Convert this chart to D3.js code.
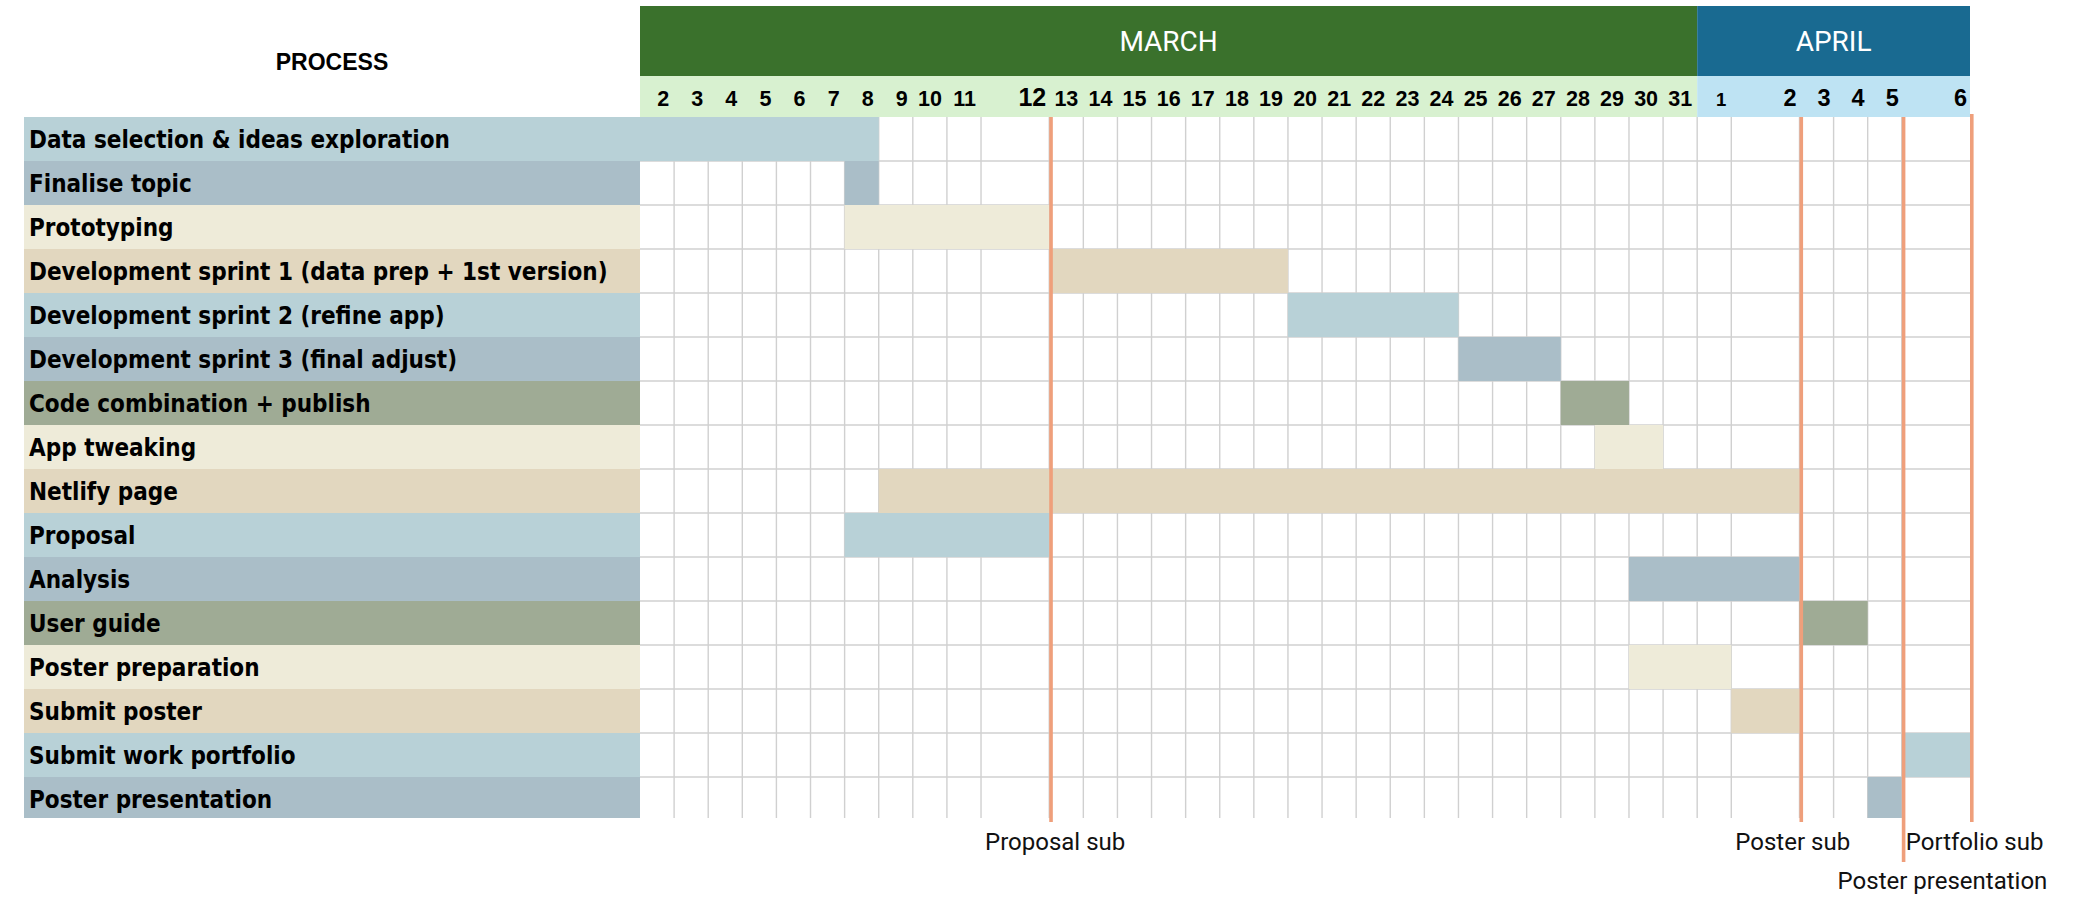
<!DOCTYPE html>
<html><head><meta charset="utf-8">
<script src="https://cdn.jsdelivr.net/npm/d3@7"></script>
<style>
html,body{margin:0;padding:0;background:#fff;}
svg{display:block;}
</style></head><body>
<svg id="chart" width="2088" height="916"></svg>
<script>
// ---------- DATA ----------
const months = ["MARCH", "APRIL"];
const marchDays = [2,3,4,5,6,7,8,9,10,11,12,13,14,15,16,17,18,19,20,21,22,23,24,25,26,27,28,29,30,31];
const aprilDays = [1,2,3,4,5,6];
const wideDays = ["Mar 12", "Apr 2", "Apr 6"];          // merged (double) cells
const tasks = [
  "Data selection & ideas exploration",
  "Finalise topic",
  "Prototyping",
  "Development sprint 1 (data prep + 1st version)",
  "Development sprint 2 (refine app)",
  "Development sprint 3 (final adjust)",
  "Code combination + publish",
  "App tweaking",
  "Netlify page",
  "Proposal",
  "Analysis",
  "User guide",
  "Poster preparation",
  "Submit poster",
  "Submit work portfolio",
  "Poster presentation"
];
const taskStart = ["Mar 2","Mar 8","Mar 8","Mar 13","Mar 20","Mar 25","Mar 28","Mar 29","Mar 9","Mar 8","Mar 30","Apr 3","Mar 30","Apr 2","Apr 6","Apr 5"];
const taskEnd   = ["Mar 8","Mar 8","Mar 12","Mar 19","Mar 24","Mar 27","Mar 29","Mar 30","Apr 2","Mar 12","Apr 2","Apr 4","Apr 1","Apr 2","Apr 6","Apr 5"];
const milestoneLabels = ["Proposal sub", "Poster sub", "Poster presentation", "Portfolio sub"];
const milestoneDays   = ["Mar 12", "Apr 2", "Apr 5", "Apr 6"];

// ---------- STYLE ----------
const C = {
  lb: "#B8D1D7", bg: "#AABEC8", cream: "#EEEBD9", tan: "#E2D7BF", sage: "#9FAB95",
  marchBand: "#3A712C", aprilBand: "#196A91", marchDay: "#D8F1D0", aprilDay: "#BEE3F3",
  grid: "#D0D0D0", mile: "#EF9F7B"
};
const taskColors = [C.lb,C.bg,C.cream,C.tan,C.lb,C.bg,C.sage,C.cream,C.tan,C.lb,C.bg,C.sage,C.cream,C.tan,C.lb,C.bg];
const largeDays = ["Mar 12","Apr 2","Apr 3","Apr 4","Apr 5","Apr 6"];
const smallDays = ["Apr 1"];

const labelLeft = 24, chartLeft = 640, chartRight = 1970;
const bandTop = 6, bandBottom = 76, dayBottom = 117;
const rowH = 44, gridBottom = 818;

// ---------- COLUMNS ----------
const cols = [];
let u = 0;
[[months[0], "Mar", marchDays], [months[1], "Apr", aprilDays]].forEach(([m, ab, days]) => {
  days.forEach(d => {
    const key = ab + " " + d;
    const span = wideDays.includes(key) ? 2 : 1;
    cols.push({ key, day: d, month: m, u0: u, u1: u + span });
    u += span;
  });
});
const colByKey = new Map(cols.map(c => [c.key, c]));
const x = d3.scaleLinear().domain([0, u]).range([chartLeft, chartRight]);
const y = d3.scaleBand().domain(tasks).range([dayBottom, dayBottom + rowH * tasks.length]);
const rowBottom = t => Math.min(y(t) + y.bandwidth(), gridBottom);

const svg = d3.select("#chart");

// label backgrounds
svg.append("g").selectAll("rect").data(tasks).join("rect")
  .attr("x", labelLeft).attr("y", d => y(d))
  .attr("width", chartLeft - labelLeft).attr("height", d => rowBottom(d) - y(d))
  .attr("fill", (d, i) => taskColors[i]);

// grid
const g = svg.append("g");
g.selectAll("line.v").data(cols.slice(1)).join("line").attr("class","v")
  .attr("x1", c => x(c.u0)).attr("x2", c => x(c.u0))
  .attr("y1", dayBottom).attr("y2", gridBottom)
  .attr("stroke", C.grid).attr("stroke-width", 1.4);
g.selectAll("line.h").data(tasks.slice(1)).join("line").attr("class","h")
  .attr("x1", chartLeft).attr("x2", chartRight)
  .attr("y1", d => y(d)).attr("y2", d => y(d))
  .attr("stroke", C.grid).attr("stroke-width", 1.4);

// bars
svg.append("g").selectAll("rect").data(tasks).join("rect")
  .attr("x", (d, i) => x(colByKey.get(taskStart[i]).u0))
  .attr("y", d => y(d))
  .attr("width", (d, i) => x(colByKey.get(taskEnd[i]).u1) - x(colByKey.get(taskStart[i]).u0))
  .attr("height", d => rowBottom(d) - y(d))
  .attr("fill", (d, i) => taskColors[i]);

// task labels
svg.append("g").selectAll("text").data(tasks).join("text")
  .attr("x", labelLeft + 5).attr("y", d => y(d) + 30.5)
  .attr("font-family", "'DejaVu Sans Condensed', 'DejaVu Sans', sans-serif")
  .attr("font-stretch", "condensed")
  .attr("font-weight", "bold").attr("font-size", 24).attr("fill", "#000")
  .text(d => d);

// milestone lines
const mileBottom = { "Poster presentation": 862 };
const mileAnchor = { "Poster presentation": "Apr 4" };
const mileTextY = { "Poster presentation": 889 };
svg.append("g").selectAll("line").data(milestoneLabels).join("line")
  .attr("x1", (d, i) => x(colByKey.get(milestoneDays[i]).u1) + 1.8)
  .attr("x2", (d, i) => x(colByKey.get(milestoneDays[i]).u1) + 1.8)
  .attr("y1", 114).attr("y2", d => mileBottom[d] || 822)
  .attr("stroke", C.mile).attr("stroke-width", 3.6);

svg.append("g").selectAll("text").data(milestoneLabels).join("text")
  .attr("x", (d, i) => x(colByKey.get(mileAnchor[d] || milestoneDays[i]).u0) + 4)
  .attr("y", d => mileTextY[d] || 850)
  .attr("font-family", "Roboto, sans-serif").attr("font-size", 24).attr("fill", "#111")
  .text(d => d);

// header: month bands
const monthG = svg.append("g");
months.forEach((m, mi) => {
  const mc = cols.filter(c => c.month === m);
  const x0 = x(mc[0].u0), x1 = x(mc[mc.length - 1].u1);
  monthG.append("rect").attr("x", x0).attr("y", bandTop).attr("width", x1 - x0).attr("height", bandBottom - bandTop)
    .attr("fill", mi === 0 ? C.marchBand : C.aprilBand);
  monthG.append("rect").attr("x", x0).attr("y", bandBottom).attr("width", x1 - x0).attr("height", dayBottom - bandBottom)
    .attr("fill", mi === 0 ? C.marchDay : C.aprilDay);
  monthG.append("text").attr("x", (x0 + x1) / 2).attr("y", 50.5).attr("text-anchor", "middle")
    .attr("font-family", "Roboto, sans-serif").attr("font-size", 28).attr("fill", "#fff")
    .text(m);
});

// day numbers
svg.append("g").selectAll("text").data(cols).join("text")
  .attr("x", c => x(c.u1) - (largeDays.includes(c.key) ? 3 : 5))
  .attr("y", 106)
  .attr("text-anchor", "end")
  .attr("font-family", "'Liberation Sans', Arial, sans-serif").attr("font-weight", "bold")
  .attr("font-size", c => c.key === "Mar 12" ? 25 : largeDays.includes(c.key) ? 23.5 : smallDays.includes(c.key) ? 18.5 : 21.5)
  .attr("fill", "#000")
  .text(c => c.day);

// PROCESS title
svg.append("text").attr("x", (labelLeft + chartLeft) / 2).attr("y", 70).attr("text-anchor", "middle")
  .attr("font-family", "'Liberation Sans', Arial, sans-serif").attr("font-weight", "bold").attr("font-size", 23)
  .attr("fill", "#000").text("PROCESS");
</script>
</body></html>
